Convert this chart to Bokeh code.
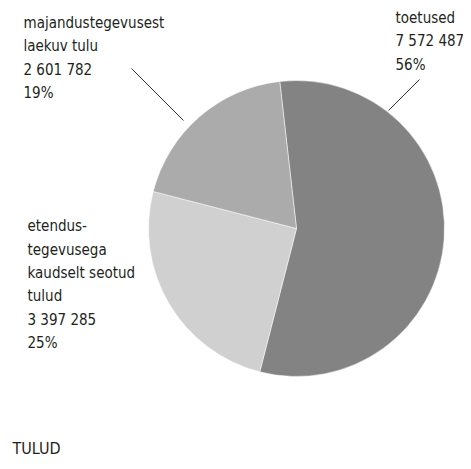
from bokeh.plotting import figure
from bokeh.models import Range1d
from bokeh.core.properties import value
from bokeh.embed import file_html
from bokeh.resources import INLINE
import math

# ---- data ----
names = ["toetused", "etendus-\ntegevusega\nkaudselt seotud\ntulud", "majandustegevusest\nlaekuv tulu"]
values = [7572487, 3397285, 2601782]
colors = ["#838383", "#d0d0d0", "#ababab"]
title = "TULUD"

# ---- layout (picture pixel coords) ----
W, H = 463, 461
def px(x):
    return x
def py(y):
    return H - y

center = (296, 228)
radius = 148
start_deg = 96.5  # math angle of first slice's start, going clockwise
TEXT_SHIFT = -5   # compensates baseline rendering offset
label_pos = [(395, 22.5), (27, 230.7), (23, 27.3)]
line_step = 23.4
leaders = [((388, 110), (419, 79)), None, ((183, 120), (131, 68))]
title_pos = (12, 453)
FONT = "DejaVu Sans Condensed"
TXT = "#231f20"

total = sum(values)
fr = [v / total for v in values]

p = figure(width=W, height=H, x_range=Range1d(0, W), y_range=Range1d(0, H),
           output_backend="svg", toolbar_location=None, min_border=0)
p.axis.visible = False
p.grid.visible = False
p.outline_line_color = None
p.background_fill_color = "white"
p.border_fill_color = "white"

starts, ends = [], []
a = math.radians(start_deg)
for f in fr:
    starts.append(a)
    a -= f * 2 * math.pi
    ends.append(a)

cx, cy = px(center[0]), py(center[1])
p.wedge(x=[cx] * 3, y=[cy] * 3, radius=radius, start_angle=starts, end_angle=ends,
        direction="clock", fill_color=colors, line_color="white", line_width=0.5)

def fmt(v):
    return f"{v:,}".replace(",", " ")

xs, ys, ts = [], [], []
for n, v, f, (lx, ly) in zip(names, values, fr, label_pos):
    lines = n.split("\n") + [fmt(v), f"{round(f * 100)}%"]
    for i, t in enumerate(lines):
        xs.append(px(lx))
        ys.append(py(ly + i * line_step + TEXT_SHIFT))
        ts.append(t)
p.text(x=xs, y=ys, text=ts, text_font=value(FONT), text_font_size="15px",
       text_color=TXT, text_baseline="alphabetic", text_align="left")

for ld in leaders:
    if ld is None:
        continue
    (x0, y0), (x1, y1) = ld
    p.line([px(x0), px(x1)], [py(y0), py(y1)], line_color="#333333", line_width=1)

p.text(x=[px(title_pos[0])], y=[py(title_pos[1] + TEXT_SHIFT)], text=[title], text_font=value(FONT),
       text_font_size="16px", text_color=TXT, text_baseline="alphabetic", text_align="left")

open("out.html", "w").write(file_html(p, INLINE))
